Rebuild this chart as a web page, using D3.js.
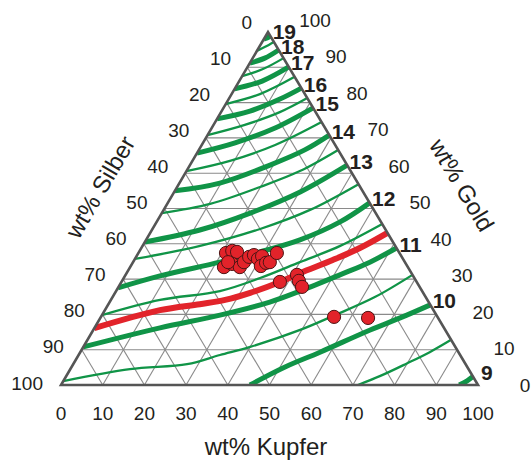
<!DOCTYPE html>
<html>
<head>
<meta charset="utf-8">
<script src="https://cdnjs.cloudflare.com/ajax/libs/d3/7.8.5/d3.min.js"></script>
<style>
body { margin: 0; background: #fff; }
text { font-family: "Liberation Sans", Arial, sans-serif; fill: #231f20; }
</style>
</head>
<body>
<div id="d3"></div>
<script>
// axis ticks (wt%)
var ticks = [0, 10, 20, 30, 40, 50, 60, 70, 80, 90, 100];
var gridSteps = [10, 20, 30, 40, 50, 60, 70, 80, 90];

// density lines, points as [wt% Kupfer, wt% Gold]
var line9 = [[95.5, 0], [96.8, 1.2], [97.6, 2.4]];
var line9h = [[71.2, 0], [75.2, 2.5], [79.9, 6.1], [83.8, 9.3], [87.2, 12.8]];
var line10 = [[45.3, 0], [51.2, 5.1], [57.5, 9.3], [66.4, 15.6], [71.9, 19], [77.3, 22.7]];
var line10h = [[0, 1.1], [14.3, 4.5], [27.3, 5.9], [33.9, 8.5], [40.0, 10.8], [49.6, 15.6], [55.9, 19.8], [62.9, 24.9], [68.8, 31.2]];
var line11 = [[0, 10.8], [15.7, 16.2], [28.3, 19.8], [38.4, 23.5], [44.1, 26.6], [51.4, 31.2], [56.8, 34.8], [61.2, 38.8]];
var line11h = [[0, 19.8], [11.8, 24.1], [24.9, 26.6], [32.7, 30.3], [40.0, 34.8], [47.4, 39.4], [54.4, 45.6]];
var line12 = [[0, 27.5], [8.4, 30.9], [20.8, 34.8], [29.0, 37.7], [36.9, 41.1], [44.0, 46.2], [48.4, 51.6]];
var line12h = [[0, 35.7], [13.8, 39.4], [25.8, 44.2], [35.1, 49.6], [43.1, 56.9]];
var line13 = [[0, 40.5], [11.5, 43.9], [21.2, 48.7], [30.2, 54.7], [37.7, 62.3]];
var line13h = [[0, 48.7], [10.3, 51.3], [19.9, 56.1], [27.2, 60.6], [33.4, 66.6]];
var line14 = [[0, 55.0], [9.7, 57.2], [19.2, 62.3], [25.4, 66.6], [29.2, 70.8]];
var line14h = [[0, 60.6], [9.0, 63.5], [17.6, 68.0], [25.5, 74.5]];
var line15 = [[0, 65.7], [7.7, 68.6], [15.2, 72.8], [21.5, 78.5]];
var line15h = [[0, 70.8], [7.5, 73.7], [14.1, 77.3], [18.7, 81.3]];
var line16 = [[0, 75.4], [6.8, 77.6], [12.3, 81.0], [15.9, 84.1]];
var line16h = [[0, 79.6], [6.8, 82.4], [12.7, 87.3]];
var line17 = [[0, 83.9], [5.5, 86.1], [9.9, 90.1]];
var line17h = [[0, 87.5], [4.0, 89.5], [7.4, 92.6]];
var line18 = [[0, 91.2], [2.9, 92.6], [5.1, 94.9]];
var line18h = [[0, 94.6], [1.4, 95.8], [2.8, 97.2]];
var line19 = [[0, 98.0], [0.6, 98.3], [1.1, 98.9]];
var redLine = [[0, 16.1], [13.2, 21.2], [21.9, 22.9], [27.4, 24.1], [32.4, 26.1], [38.0, 29.2], [41.6, 31.7], [47.6, 35.4], [52.4, 38.8], [56.9, 43.1]];

var karatValues = [9, 10, 11, 12, 13, 14, 15, 16, 17, 18, 19];
var karatLines = [line9, line10, line11, line12, line13, line14, line15, line16, line17, line18, line19];
var halfLines = [line9h, line10h, line11h, line12h, line13h, line14h, line15h, line16h, line17h, line18h];

// samples
var sampleKupfer = [21.0, 22.2, 23.5, 22.5, 24.0, 26.3, 26.6, 27.1, 28.0, 29.5, 30.1, 31.2, 32.0, 32.8, 33.2, 38.0, 41.1, 42.4, 44.0, 55.9, 64.2, 22.8];
var sampleGold = [37.4, 38.0, 37.7, 33.4, 34.3, 33.4, 34.8, 36.3, 36.8, 35.7, 36.5, 33.7, 34.6, 34.8, 37.4, 29.2, 31.2, 29.5, 27.8, 19.3, 19.0, 34.8];

var width = 531;
var height = 463;

var svg = d3.select("#d3").append("svg").attr("width", width).attr("height", height);

// ternary projection
var xCu = d3.scaleLinear().domain([0, 100]).range([61, 478]);
var xAu = d3.scaleLinear().domain([0, 100]).range([0, 207]);
var yAu = d3.scaleLinear().domain([0, 100]).range([385, 32]);
function px(c, a) { return xCu(c) + xAu(a); }
function py(c, a) { return yAu(a); }

var corners = [[0, 0], [100, 0], [0, 100]];
var triPoints = corners.map(function(d) { return px(d[0], d[1]) + "," + py(d[0], d[1]); }).join(" ");

svg.append("clipPath").attr("id", "tri").append("polygon").attr("points", triPoints);

// grid
var grid = svg.append("g").attr("stroke", "#8a8a8a").attr("stroke-width", 1.1);
gridSteps.forEach(function(v) {
    var segs = [
        [[0, v], [100 - v, v]],
        [[v, 0], [v, 100 - v]],
        [[100 - v, 0], [0, 100 - v]]
    ];
    segs.forEach(function(s) {
        grid.append("line")
            .attr("x1", px(s[0][0], s[0][1])).attr("y1", py(s[0][0], s[0][1]))
            .attr("x2", px(s[1][0], s[1][1])).attr("y2", py(s[1][0], s[1][1]));
    });
});

var line = d3.line()
    .x(function(d) { return px(d[0], d[1]); })
    .y(function(d) { return py(d[0], d[1]); })
    .curve(d3.curveCatmullRom);

var lines = svg.append("g").attr("clip-path", "url(#tri)").attr("fill", "none");

lines.selectAll(".thin").data(halfLines).enter().append("path")
    .attr("class", "thin")
    .attr("d", function(d) { return line(d); })
    .attr("stroke", "#109447").attr("stroke-width", 2.3);

lines.selectAll(".thick").data(karatLines).enter().append("path")
    .attr("class", "thick")
    .attr("d", function(d) { return line(d); })
    .attr("stroke", "#109447").attr("stroke-width", 5);

lines.append("path").attr("d", line(redLine))
    .attr("stroke", "#e2242b").attr("stroke-width", 6);

// outline
svg.append("polygon").attr("points", triPoints)
    .attr("fill", "none").attr("stroke", "#555555").attr("stroke-width", 2.6)
    .attr("stroke-linejoin", "miter");

// samples
var samples = sampleKupfer.map(function(c, i) { return [c, sampleGold[i]]; });
svg.append("g").selectAll("circle").data(samples).enter().append("circle")
    .attr("cx", function(d) { return px(d[0], d[1]); })
    .attr("cy", function(d) { return py(d[0], d[1]); })
    .attr("r", 6.6)
    .attr("fill", "#e2232a")
    .attr("stroke", "#4d1414")
    .attr("stroke-width", 1);

// tick labels
var silberX = d3.scaleLinear().domain([0, 100]).range([252, 43]);
var silberY = d3.scaleLinear().domain([0, 100]).range([22, 383]);
var goldX = d3.scaleLinear().domain([0, 100]).range([525, 315]);
var goldY = d3.scaleLinear().domain([0, 100]).range([385, 20]);

svg.append("g").selectAll("text").data(ticks).enter().append("text")
    .attr("x", function(d) { return xCu(d); })
    .attr("y", 413)
    .attr("text-anchor", "middle").attr("dominant-baseline", "central")
    .attr("font-size", 19)
    .text(function(d) { return d; });

svg.append("g").selectAll("text").data(ticks).enter().append("text")
    .attr("x", function(d) { return silberX(d); })
    .attr("y", function(d) { return silberY(d); })
    .attr("text-anchor", "end").attr("dominant-baseline", "central")
    .attr("font-size", 19)
    .text(function(d) { return d; });

svg.append("g").selectAll("text").data(ticks).enter().append("text")
    .attr("x", function(d) { return goldX(d); })
    .attr("y", function(d) { return goldY(d); })
    .attr("text-anchor", "middle").attr("dominant-baseline", "central")
    .attr("font-size", 19)
    .text(function(d) { return d; });

// density labels at the right end of each line
svg.append("g").selectAll("text").data(karatLines).enter().append("text")
    .attr("x", function(d) { var e = d[d.length - 1]; return px(e[0], e[1]) + 14; })
    .attr("y", function(d) { var e = d[d.length - 1]; return py(e[0], e[1]) - 4; })
    .attr("text-anchor", "middle").attr("dominant-baseline", "central")
    .attr("font-size", 21).attr("font-weight", "bold")
    .text(function(d, i) { return karatValues[i]; });

// axis titles
svg.append("text").attr("x", 266).attr("y", 446)
    .attr("text-anchor", "middle").attr("dominant-baseline", "central")
    .attr("font-size", 24).text("wt% Kupfer");

svg.append("text").attr("transform", "translate(100,187) rotate(-59.6)")
    .attr("text-anchor", "middle").attr("dominant-baseline", "central")
    .attr("font-size", 24).text("wt% Silber");

svg.append("text").attr("transform", "translate(462,185) rotate(59.3)")
    .attr("text-anchor", "middle").attr("dominant-baseline", "central")
    .attr("font-size", 24).text("wt% Gold");
</script>
</body>
</html>
